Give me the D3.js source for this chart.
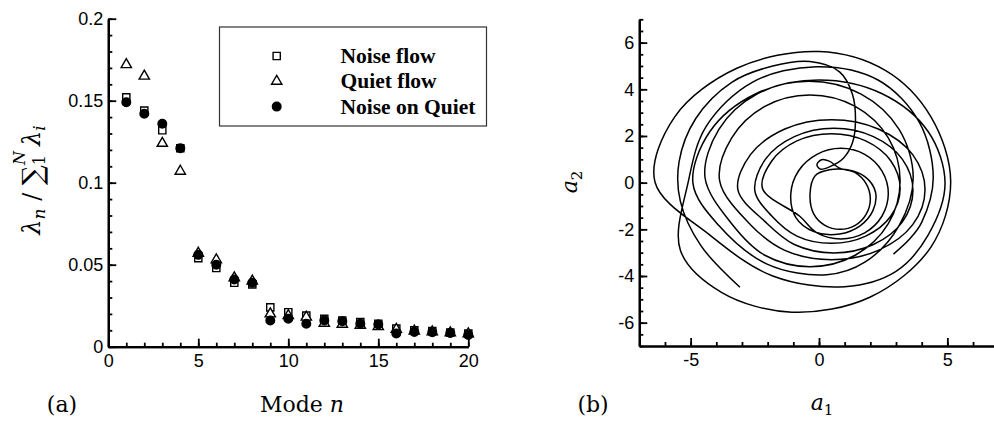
<!DOCTYPE html>
<html>
<head>
<meta charset="utf-8">
<script src="https://cdn.jsdelivr.net/npm/d3@7"></script>
<style>
	body { margin: 0; background: white; }
	.tick text { font-family: "Liberation Sans", Arial, sans-serif; font-size: 18px; fill: black; }
	.math { font-family: "DejaVu Serif", serif; fill: black; }
	.legend { font-family: "Liberation Serif", "Times New Roman", serif; fill: black; }
</style>
</head>
<body>
<div id="svg_goes_here"></div>
<script>
// modes 1..20
var modes = [1,2,3,4,5,6,7,8,9,10,11,12,13,14,15,16,17,18,19,20];
var noise_flow = [0.152,0.144,0.132,0.121,0.054,0.048,0.039,0.038,0.024,0.021,0.019,0.017,0.016,0.015,0.014,0.011,0.010,0.0095,0.0087,0.008];
var quiet_flow = [0.172,0.165,0.124,0.107,0.057,0.053,0.042,0.040,0.020,0.019,0.018,0.0143,0.0137,0.013,0.0122,0.0106,0.0095,0.009,0.0085,0.0078];
var noise_on_quiet = [0.149,0.142,0.136,0.121,0.056,0.050,0.041,0.039,0.016,0.017,0.014,0.016,0.0155,0.014,0.0135,0.008,0.009,0.0088,0.0083,0.0072];
var legend_labels = ['Noise flow', 'Quiet flow', 'Noise on Quiet'];
var y_ticks = [0, 0.05, 0.1, 0.15, 0.2];
var x_ticks = [0, 5, 10, 15, 20];

// phase portrait a1 vs a2
var trajectory = [
	[-3.08,-4.48],[-4.6,-2.7],[-5.4,-0.8],[-5.45,0.9],[-4.8,2.75],[-3.4,4.3],[-1.8,5.0],[-0.35,5.19],
	// the curl into the middle
	[0.8,4.75],[1.3,3.8],[1.42,2.6],[1.3,1.7],[0.95,1.05],[0.45,0.7],[0.05,0.58],[-0.08,0.78],[0.1,0.98],[0.4,0.92],[0.8,0.62],
	[1.41,0.43],[1.84,-0.05],[2.0,-0.7],[1.84,-1.35],[1.41,-1.83],[0.82,-2.0],[0.23,-1.83],[-0.2,-1.35],
	[-0.35,-0.5],[-0.15,0.3],[0.4,0.55],[1.1,0.55],[1.8,0.25],[2.2,-0.4],[2.1,-1.2],[1.6,-1.85],[0.8,-2.2],[-0.2,-2.1],[-0.9,-1.5],
	[-1.1,-0.5],[-0.8,0.5],[-0.08,1.21],[0.85,1.47],[1.78,1.21],[2.45,0.5],[2.7,-0.47],[2.45,-1.44],[1.78,-2.15],[0.85,-2.41],[-0.08,-2.15],[-0.75,-1.44],
	[-2.2,-0.25],[-1.84,0.93],[-0.86,1.79],[0.48,2.1],[1.82,1.79],[2.8,0.93],[3.16,-0.25],[2.8,-1.43],[1.82,-2.29],[0.48,-2.6],[-0.86,-2.29],[-1.84,-1.43],
	[-2.5,-0.34],[-2.09,1.0],[-0.96,1.97],[0.58,2.33],[2.12,1.97],[3.25,1.0],[3.66,-0.34],[3.25,-1.68],[2.12,-2.65],[0.58,-3.01],[-0.96,-2.65],[-2.09,-1.68],
	[-3.16,-0.3],[-2.67,1.2],[-1.33,2.3],[0.49,2.7],[2.31,2.3],[3.65,1.2],[4.13,-0.3],[3.65,-1.8],[2.31,-2.9],[0.49,-3.3],[-1.33,-2.9],[-2.67,-1.8],
	[-3.87,0.08],[-3.4,1.92],[-2.11,3.27],[-0.35,3.76],[1.41,3.27],[2.7,1.92],[3.16,0.08],[2.7,-1.76],[1.41,-3.11],[-0.35,-3.6],[-2.11,-3.11],[-3.4,-1.76],
	[-4.44,0.22],[-3.9,2.28],[-2.42,3.79],[-0.39,4.34],[1.64,3.79],[3.12,2.28],[3.67,0.22],[3.12,-1.84],[1.8,-3.4],[0.3,-3.95],[-2.0,-3.5],[-3.9,-1.84],
	[-4.91,-0.03],[-4.25,2.19],[-2.46,3.81],[0.0,4.4],[2.46,3.81],[4.25,2.19],[4.91,-0.03],[4.25,-2.25],[3.0,-3.8],[1.0,-4.46],[-1.8,-4.0],[-4.25,-2.25],
	[-6.39,0.03],[-5.62,2.82],[-3.2,4.9],[0.0,5.62],[2.6,4.8],[4.36,2.82],[5.13,0.03],[4.36,-2.76],[2.0,-4.9],[-1.06,-5.55],[-3.8,-4.7],[-5.4,-2.9],
	[-5.1,0.0],[-4.4,2.4],[-2.6,4.3],[-0.1,4.97],[2.3,4.4],[3.9,2.6],[4.45,0.2],[4.0,-1.7],[3.5,-2.45],[2.9,-3.06]
];
var a_x_ticks = [-5, 0, 5];
var a_y_ticks = [-6, -4, -2, 0, 2, 4, 6];

var svg = d3.select('#svg_goes_here')
	.append('svg')
	.attr('width', 994)
	.attr('height', 422);

//---------- panel (a) ----------
var x = d3.scaleLinear().domain([0, 20]).range([108.3, 468.3]);
var y = d3.scaleLinear().domain([0, 0.2]).range([346.7, 18.7]);

function draw_axes(g_x, g_y, xs, ys, major_x, minor_x, major_y, minor_y, fmt_y){
	//minor ticks first, no labels
	g_x.append('g')
		.call(d3.axisBottom(xs).tickValues(minor_x).tickSizeInner(-4).tickSizeOuter(0).tickFormat(''));
	g_x.append('g')
		.call(d3.axisBottom(xs).tickValues(major_x).tickSizeInner(-8).tickSizeOuter(0).tickPadding(5).tickFormat(d3.format('')));
	g_y.append('g')
		.call(d3.axisLeft(ys).tickValues(minor_y).tickSizeInner(-4).tickSizeOuter(0).tickFormat(''));
	g_y.append('g')
		.call(d3.axisLeft(ys).tickValues(major_y).tickSizeInner(-8).tickSizeOuter(0).tickPadding(5).tickFormat(fmt_y));
	svg.selectAll('.domain').attr('stroke', 'black').attr('stroke-width', 2.2);
	svg.selectAll('.tick line').attr('stroke', 'black').attr('stroke-width', 1.8);
}

var gx = svg.append('g').attr('transform', 'translate(0,' + y(0) + ')');
var gy = svg.append('g').attr('transform', 'translate(' + x(0) + ',0)');
draw_axes(gx, gy, x, y, x_ticks, d3.range(0, 21, 1), y_ticks, d3.range(0, 0.201, 0.01),
	function(d){ return d == 0 ? '0' : d3.format('')(+d.toFixed(2)); });
gx.selectAll('.tick text').attr('dy', '0.85em');

var sym_square = d3.symbol().type(d3.symbolSquare).size(52);
var sym_tri = d3.symbol().type(d3.symbolTriangle).size(46);
var sym_circle = d3.symbol().type(d3.symbolCircle).size(58);

function add_markers(values, sym, fill){
	svg.append('g')
		.selectAll('path')
		.data(values)
		.enter()
		.append('path')
		.attr('d', sym)
		.attr('transform', function(d, i){ return 'translate(' + x(modes[i]) + ',' + y(d) + ')'; })
		.attr('fill', fill)
		.attr('stroke', 'black')
		.attr('stroke-width', 1.4);
}
add_markers(noise_flow, sym_square, 'white');
add_markers(quiet_flow, sym_tri, 'white');
add_markers(noise_on_quiet, sym_circle, 'black');

//legend
svg.append('rect')
	.attr('x', 219.5).attr('y', 27)
	.attr('width', 267).attr('height', 99)
	.attr('fill', 'white')
	.attr('stroke', '#333')
	.attr('stroke-width', 1.2);
var legend_syms = [[sym_square, 'white'], [sym_tri, 'white'], [sym_circle, 'black']];
legend_labels.forEach(function(lab, i){
	var ly = 56 + i * 25.3;
	svg.append('path')
		.attr('d', legend_syms[i][0])
		.attr('transform', 'translate(276.7,' + ly + ')')
		.attr('fill', legend_syms[i][1])
		.attr('stroke', 'black')
		.attr('stroke-width', 1.4);
	svg.append('text')
		.attr('class', 'legend')
		.attr('x', 340.5)
		.attr('y', ly + 7)
		.style('font-size', '21.5px')
		.style('font-weight', 'bold')
		.text(lab);
});

//y label, rotated
var ylab = svg.append('text')
	.attr('class', 'math')
	.attr('transform', 'translate(40,180) rotate(-90)')
	.attr('text-anchor', 'middle')
	.style('font-size', '24px');
ylab.append('tspan').style('font-style', 'italic').text('λ');
ylab.append('tspan').style('font-style', 'italic').style('font-size', '17px').attr('dy', 5).text('n');
ylab.append('tspan').attr('dy', -5).text(' / ');
ylab.append('tspan').style('font-size', '28px').attr('dy', 2).text('∑');
ylab.append('tspan').style('font-size', '16px').attr('dy', 3).text('1');
ylab.append('tspan').style('font-size', '16px').style('font-style', 'italic').attr('dx', -10).attr('dy', -20).text('N');
ylab.append('tspan').style('font-style', 'italic').attr('dx', 5).attr('dy', 15).text('λ');
ylab.append('tspan').style('font-style', 'italic').style('font-size', '17px').attr('dy', 5).text('i');

var xlab = svg.append('text')
	.attr('class', 'math')
	.attr('x', 302).attr('y', 412)
	.attr('text-anchor', 'middle')
	.style('font-size', '22px');
xlab.append('tspan').text('Mode ');
xlab.append('tspan').style('font-style', 'italic').text('n');

svg.append('text')
	.attr('class', 'math')
	.attr('x', 62).attr('y', 412)
	.attr('text-anchor', 'middle')
	.style('font-size', '22px')
	.text('(a)');

//---------- panel (b) ----------
var x2 = d3.scaleLinear().domain([-7, 7]).range([639.3, 998.7]);
var y2 = d3.scaleLinear().domain([-7, 7]).range([346, 19.3]);

var gx2 = svg.append('g').attr('transform', 'translate(0,' + y2(-7) + ')');
var gy2 = svg.append('g').attr('transform', 'translate(' + x2(-7) + ',0)');
draw_axes(gx2, gy2, x2, y2, a_x_ticks, d3.range(-7, 7.01, 1), a_y_ticks, d3.range(-7, 7.01, 0.5), d3.format(''));
gx2.selectAll('.tick text').attr('dy', '0.85em');
svg.selectAll('.tick text').text(function(){ return this.textContent.replace('−', '-'); });

var line = d3.line()
	.x(function(d){ return x2(d[0]); })
	.y(function(d){ return y2(d[1]); })
	.curve(d3.curveCatmullRom.alpha(0.5));

svg.append('path')
	.datum(trajectory)
	.attr('d', line)
	.attr('fill', 'none')
	.attr('stroke', 'black')
	.attr('stroke-width', 1.5);

var a2 = svg.append('text')
	.attr('class', 'math')
	.attr('transform', 'translate(577,182) rotate(-90)')
	.attr('text-anchor', 'middle')
	.style('font-size', '22px');
a2.append('tspan').style('font-style', 'italic').text('a');
a2.append('tspan').style('font-size', '15px').attr('dy', 5).text('2');

var a1 = svg.append('text')
	.attr('class', 'math')
	.attr('x', 822).attr('y', 410)
	.attr('text-anchor', 'middle')
	.style('font-size', '22px');
a1.append('tspan').style('font-style', 'italic').text('a');
a1.append('tspan').style('font-size', '15px').attr('dy', 5).text('1');

svg.append('text')
	.attr('class', 'math')
	.attr('x', 593).attr('y', 412)
	.attr('text-anchor', 'middle')
	.style('font-size', '22px')
	.text('(b)');
</script>
</body>
</html>
